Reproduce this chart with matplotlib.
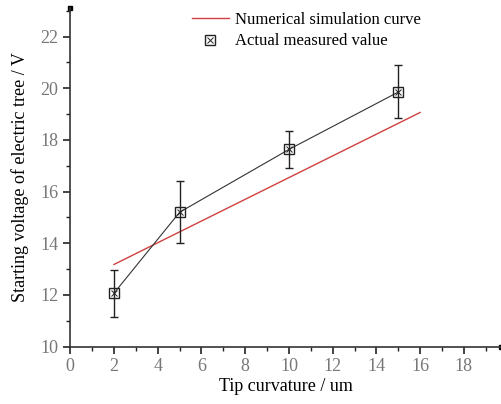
import numpy as np
import matplotlib.pyplot as plt
from matplotlib.legend_handler import HandlerTuple
from matplotlib.ticker import MultipleLocator

## measured data
curv = [2, 5, 10, 15]
volt = [12.07, 15.2, 17.63, 19.85]
err_lo = [11.15, 14.0, 16.93, 18.83]
err_hi = [12.97, 16.4, 18.34, 20.88]

## numerical simulation line
sim_x = [2, 16]
sim_y = [13.18, 19.06]

xticks = [0, 2, 4, 6, 8, 10, 12, 14, 16, 18]
yticks = [10, 12, 14, 16, 18, 20, 22]

plt.rcParams['font.family'] = ['Liberation Serif', 'DejaVu Serif']

fig = plt.figure(figsize=(5.02, 4.04), dpi=100)
ax = fig.add_axes([0.140, 0.142, 0.858, 0.838])

yerr = [np.array(volt) - np.array(err_lo), np.array(err_hi) - np.array(volt)]
ax.errorbar(curv, volt, yerr=yerr, fmt='none', ecolor='#222222', elinewidth=1.0,
            capsize=3, capthick=1.0, zorder=3)
ax.plot(curv, volt, color='#333333', lw=0.8, zorder=3)
sq, = ax.plot(curv, volt, ls='none', marker='s', ms=7, mfc='none', mec='#222222', mew=1.0, zorder=4)
xx, = ax.plot(curv, volt, ls='none', marker='x', ms=5, color='#222222', mew=0.7, zorder=4)
red, = ax.plot(sim_x, sim_y, color='#d04040', lw=1.0, zorder=2)

ax.set_xlim(0, 19.7)
ax.set_ylim(10, 23.1)
ax.set_xticks(xticks)
ax.set_yticks(yticks)
ax.xaxis.set_minor_locator(MultipleLocator(1))
ax.yaxis.set_minor_locator(MultipleLocator(1))
ax.tick_params(which='major', direction='out', length=5, width=1.2, labelsize=13,
               labelcolor='#777777', color='#222222')
ax.tick_params(which='minor', direction='out', length=3, width=1.0, color='#222222')
for s in ['top', 'right']:
    ax.spines[s].set_visible(False)
for s in ['left', 'bottom']:
    ax.spines[s].set_linewidth(1.2)
    ax.spines[s].set_color('#333333')
ax.plot(1, 0, marker='s', ms=3, color='black', transform=ax.transAxes, clip_on=False)
ax.plot(0, 1, marker='s', ms=3, color='black', transform=ax.transAxes, clip_on=False)

ax.set_xlabel('Tip curvature / um', fontsize=13, labelpad=2)
ax.set_ylabel('Starting voltage of electric tree / V', fontsize=13, labelpad=8)

ax.legend([red, (sq, xx)], ['Numerical simulation curve', 'Actual measured value'],
          handler_map={tuple: HandlerTuple(ndivide=1)},
          loc='upper left', bbox_to_anchor=(0.248, 1.034), frameon=False, fontsize=12,
          handlelength=2.2, handletextpad=0.35, labelspacing=0.35)

fig.savefig('out.png', dpi=100)
